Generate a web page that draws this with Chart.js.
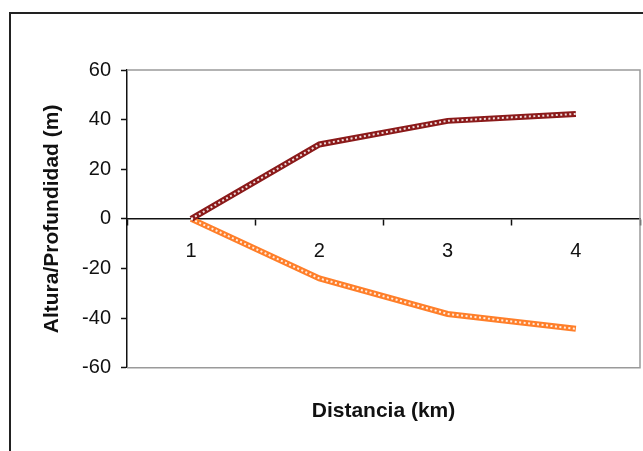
<!DOCTYPE html>
<html>
<head>
<meta charset="utf-8">
<script src="https://cdn.jsdelivr.net/npm/chart.js@4.4.1/dist/chart.umd.min.js"></script>
<style>
  html, body { margin: 0; padding: 0; background: #fff; overflow: hidden; }
  #wrap { position: relative; width: 643px; height: 451px; }
  #frame { position: absolute; left: 9px; top: 12px; width: 700px; height: 500px; border: 2px solid #222; box-sizing: border-box; }
  canvas { position: absolute; left: 0; top: 0; }
</style>
</head>
<body>
<div id="wrap">
  <div id="frame"></div>
  <canvas id="c" width="643" height="451"></canvas>
</div>
<script>
const categories = ['1', '2', '3', '4'];
const alturaValues = [0, 30, 39.5, 42.3];
const profundidadValues = [0, -24, -38.3, -44.3];
const yTicks = [-60, -40, -20, 0, 20, 40, 60];

const redColor = '#8b1a1a';
const orangeColor = '#ff7f2a';

const plotBorder = {
  id: 'plotBorder',
  beforeDatasetsDraw(chart) {
    const { ctx, chartArea: a } = chart;
    ctx.save();
    ctx.strokeStyle = '#9a9a9a';
    ctx.lineWidth = 1.5;
    ctx.beginPath();
    ctx.moveTo(a.left, a.top);
    ctx.lineTo(a.right, a.top);
    ctx.lineTo(a.right, a.bottom);
    ctx.lineTo(a.left, a.bottom);
    ctx.stroke();
    ctx.restore();
  }
};

function lineSet(data, color) {
  return [
    { data: data, borderColor: color, borderWidth: 6, pointRadius: 0, fill: false, tension: 0, order: 2 },
    { data: data, borderColor: 'rgba(255,255,255,0.85)', borderWidth: 2, borderDash: [2, 2.5], pointRadius: 0, fill: false, tension: 0, order: 1 }
  ];
}

new Chart(document.getElementById('c'), {
  type: 'line',
  data: {
    labels: categories,
    datasets: [...lineSet(alturaValues, redColor), ...lineSet(profundidadValues, orangeColor)]
  },
  plugins: [plotBorder],
  options: {
    responsive: false,
    animation: false,
    devicePixelRatio: 1,
    layout: { padding: { left: 40, top: 70, right: 3, bottom: 27 } },
    plugins: {
      legend: { display: false },
      tooltip: { enabled: false },
      title: {
        display: true,
        position: 'bottom',
        fullSize: false,
        text: 'Distancia (km)',
        color: '#111',
        font: { family: 'Liberation Sans', size: 21, weight: 'bold' },
        padding: { top: 31, bottom: 0 }
      }
    },
    scales: {
      x: {
        type: 'category',
        position: { y: 0 },
        offset: true,
        grid: { display: true, drawOnChartArea: false, drawTicks: true, tickLength: 6, tickColor: '#111', tickWidth: 1.5, offset: true },
        border: { display: true, color: '#111', width: 1.5 },
        ticks: { color: '#111', font: { family: 'Liberation Sans', size: 20 }, padding: 15, maxRotation: 0 }
      },
      y: {
        position: 'left',
        min: -60,
        max: 60,
        afterBuildTicks(scale) { scale.ticks = yTicks.map(v => ({ value: v })); },
        afterFit(scale) { scale.width = 87; },
        grid: { display: true, drawOnChartArea: false, drawTicks: true, tickLength: 6, tickColor: '#111', tickWidth: 1.5 },
        border: { display: true, color: '#111', width: 1.5 },
        ticks: { color: '#111', font: { family: 'Liberation Sans', size: 20 }, padding: 10 },
        title: {
          display: true,
          text: 'Altura/Profundidad (m)',
          color: '#111',
          font: { family: 'Liberation Sans', size: 21, weight: 'bold' },
          padding: 0
        }
      }
    }
  }
});
</script>
</body>
</html>
